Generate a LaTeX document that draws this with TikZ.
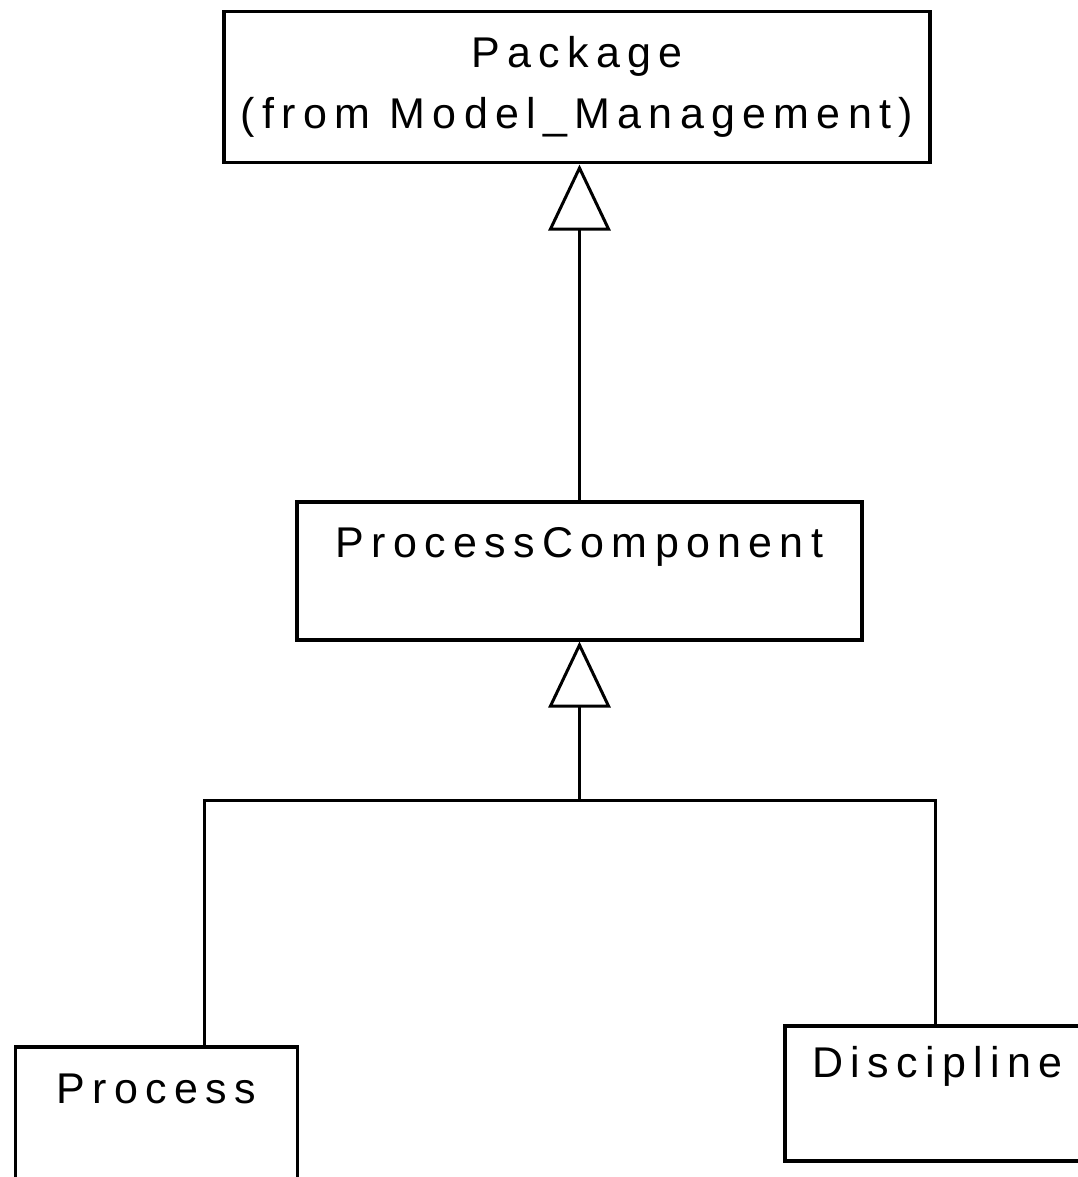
\documentclass[tikz,border=0pt]{standalone}
\usepackage{fontspec}
\setmainfont{Liberation Sans}[LetterSpace=17]
\usepackage{tikz}
\usetikzlibrary{arrows.meta, positioning}

\begin{document}
\begin{tikzpicture}[x=1pt, y=-1pt,
    box/.style={draw, line width=3.5pt, inner sep=0pt, anchor=north,
        font=\fontsize{43}{61}\selectfont},
    gen/.style={line width=3pt, -{Triangle[open, length=66pt, width=62pt]}}]
    % 1. Khung hình
    \useasboundingbox (0,0) rectangle (1078,1177);
    \clip (0,0) rectangle (1078,1177);

    % 2. Các lớp
    \node[box, minimum width=706pt, minimum height=151pt, align=center] (pkg) at (577,10)
        {Package\\(from Model\_Management)};
    \node[box, minimum width=565pt, text height=56pt, text depth=82pt] (pc) at (579.5,500)
        {ProcessComponent};
    \node[box, minimum width=282pt, text height=57pt, text depth=150pt] (proc) at (156.5,1045)
        {Process};
    \node[box, minimum width=305pt, text height=52pt, text depth=83pt] (disc) at (937.5,1024)
        {Discipline};

    % 3. Điểm rẽ nhánh
    \coordinate (fork) at (579.5,800);
    \coordinate (lf) at (204,800);
    \coordinate (rf) at (935,800);

    % 4. Quan hệ kế thừa
    \draw[gen] (pc.north) -- (pc.north |- pkg.south);
    \draw[gen] (fork) -- (pc.south);
    \draw[line width=3pt] (lf |- proc.north) -- (lf) -- (rf) -- (rf |- disc.north);
\end{tikzpicture}
\end{document}
